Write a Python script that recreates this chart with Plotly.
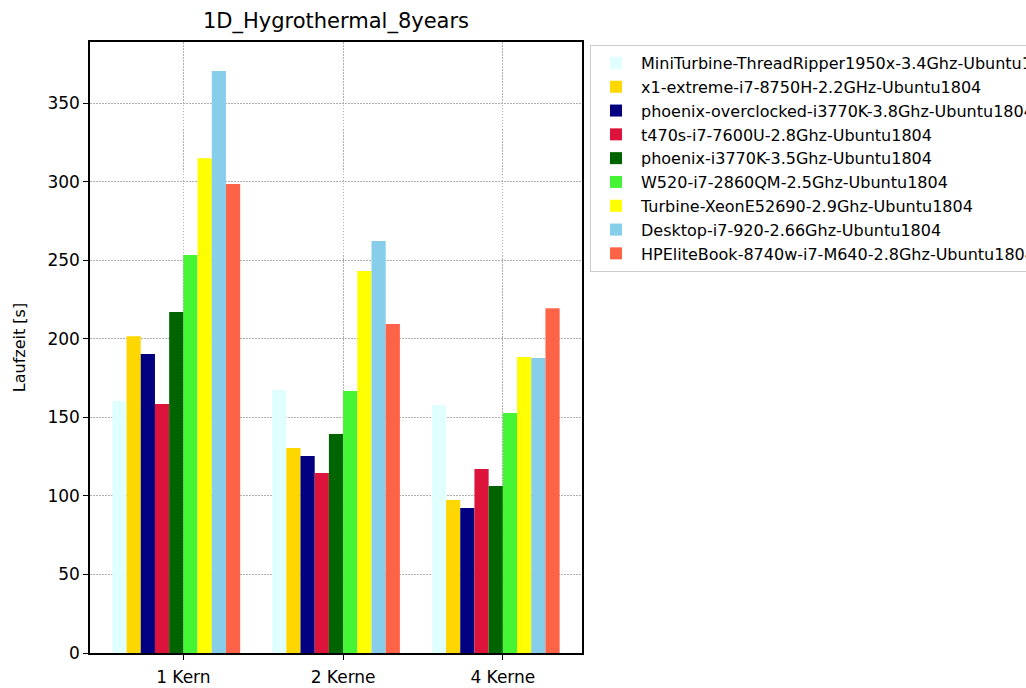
import numpy as np
import plotly.graph_objects as go

categories = ["1 Kern", "2 Kerne", "4 Kerne"]

series_names = [
    "MiniTurbine-ThreadRipper1950x-3.4Ghz-Ubuntu1804",
    "x1-extreme-i7-8750H-2.2GHz-Ubuntu1804",
    "phoenix-overclocked-i3770K-3.8Ghz-Ubuntu1804",
    "t470s-i7-7600U-2.8Ghz-Ubuntu1804",
    "phoenix-i3770K-3.5Ghz-Ubuntu1804",
    "W520-i7-2860QM-2.5Ghz-Ubuntu1804",
    "Turbine-XeonE52690-2.9Ghz-Ubuntu1804",
    "Desktop-i7-920-2.66Ghz-Ubuntu1804",
    "HPEliteBook-8740w-i7-M640-2.8Ghz-Ubuntu1804",
]

# runtimes in seconds per core count
miniturbine = [160.4, 167.4, 157.8]
x1_extreme = [201.7, 130.5, 97.4]
phoenix_oc = [190.3, 125.4, 92.3]
t470s = [158.5, 114.5, 117.1]
phoenix = [217.0, 139.4, 106.3]
w520 = [253.3, 166.7, 152.7]
turbine = [315.0, 243.1, 188.4]
desktop = [370.4, 262.2, 187.7]
hpelitebook = [298.5, 209.4, 219.5]

series_values = [miniturbine, x1_extreme, phoenix_oc, t470s, phoenix,
                 w520, turbine, desktop, hpelitebook]

colors = ["#E0FFFF", "#FFD700", "#000080", "#DC143C", "#006400",
          "#45F535", "#FFFF00", "#87CEEB", "#FF6347"]

y_ticks = [0, 50, 100, 150, 200, 250, 300, 350]

FONT = "DejaVu Sans"
n = len(series_names)
bar_w = 0.8 / n
idx = np.arange(len(categories))

fig = go.Figure()
for i, (name, vals, col) in enumerate(zip(series_names, series_values, colors)):
    fig.add_trace(go.Bar(
        x=idx + (i - 5) * bar_w,
        y=vals,
        width=bar_w,
        offset=0,
        name=name,
        legendgroup=name,
        marker=dict(color=col, line=dict(width=0)),
    ))

x_lo = -5 * bar_w
x_hi = (len(categories) - 1) + 4 * bar_w
pad = 0.05 * (x_hi - x_lo)
y_max = max(max(v) for v in series_values) * 1.05

grid = dict(showgrid=True, gridcolor="#b0b0b0", griddash="1.5px,1.5px",
            gridwidth=0.8, zeroline=False)
spine = dict(showline=True, mirror=True, linecolor="black", linewidth=1.5,
             ticks="outside", ticklen=5, tickwidth=1.2, tickcolor="black",
             tickfont=dict(size=17))

fig.update_layout(
    width=1026, height=688,
    margin=dict(l=90, r=444, t=42, b=35, autoexpand=False),
    paper_bgcolor="white", plot_bgcolor="white",
    font=dict(family=FONT, size=16, color="black"),
    barmode="overlay",
    title=dict(text="1D_Hygrothermal_8years", xref="paper", x=0.5,
               xanchor="center", y=0.9695, yanchor="middle",
               font=dict(size=21)),
    xaxis=dict(
        range=[x_lo - pad, x_hi + pad],
        tickvals=idx, ticktext=categories,
        ticklabelstandoff=3,
        **spine, **grid,
    ),
    yaxis=dict(
        range=[0, y_max],
        tickvals=y_ticks,
        **spine, **grid,
        title=dict(text="Laufzeit [s]", standoff=18, font=dict(size=16)),
    ),
    legend=dict(
        x=1.0163, y=0.995, xanchor="left", yanchor="top",
        bgcolor="white", bordercolor="#cccccc", borderwidth=1,
        font=dict(size=16), tracegroupgap=2.8, itemwidth=40,
        traceorder="normal",
    ),
)

fig.write_html("out.html")
